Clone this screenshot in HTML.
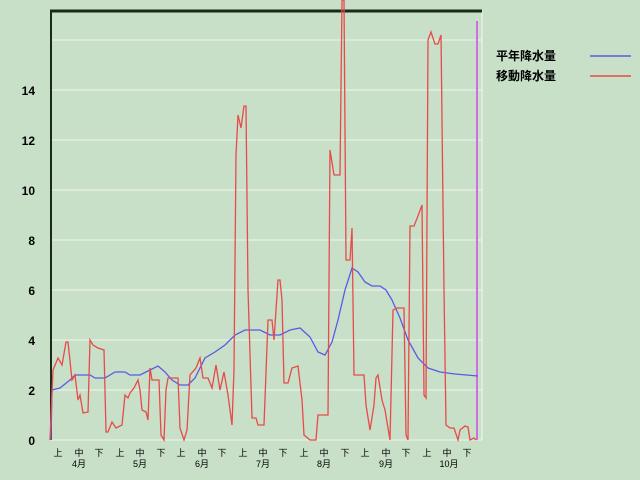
<!DOCTYPE html>
<html><head><meta charset="utf-8"><style>
body{margin:0;background:#c8dfc8;}
svg{display:block;font-family:"Liberation Sans","Noto Sans CJK JP",sans-serif;}
</style></head><body>
<svg width="640" height="480" viewBox="0 0 640 480">
<rect width="640" height="480" fill="#c8dfc8"/>
<g stroke="#e2eee2" stroke-width="1.5">
<line x1="50" y1="440" x2="482" y2="440"/><line x1="50" y1="390" x2="482" y2="390"/><line x1="50" y1="340" x2="482" y2="340"/><line x1="50" y1="290" x2="482" y2="290"/><line x1="50" y1="240" x2="482" y2="240"/><line x1="50" y1="190" x2="482" y2="190"/><line x1="50" y1="140" x2="482" y2="140"/><line x1="50" y1="90" x2="482" y2="90"/><line x1="50" y1="40" x2="482" y2="40"/>
</g>
<line x1="482" y1="10" x2="482" y2="440" stroke="#e6efe6" stroke-width="1.5"/>
<line x1="50" y1="11" x2="482" y2="11" stroke="#1a2a1a" stroke-width="3"/>
<line x1="51" y1="10" x2="51" y2="440" stroke="#1a2a1a" stroke-width="2"/>
<line x1="477" y1="21" x2="477" y2="440" stroke="#d070e0" stroke-width="2"/>
<g font-size="12" font-weight="bold" text-anchor="end" fill="#000">
<text x="35" y="445">0</text><text x="35" y="395">2</text><text x="35" y="345">4</text><text x="35" y="295">6</text><text x="35" y="245">8</text><text x="35" y="195">10</text><text x="35" y="145">12</text><text x="35" y="95">14</text>
</g>
<g font-size="9" text-anchor="middle" fill="#000">
<text x="58" y="456">上</text><text x="79" y="456">中</text><text x="99" y="456">下</text>
<text x="120" y="456">上</text><text x="140" y="456">中</text><text x="161" y="456">下</text>
<text x="181" y="456">上</text><text x="202" y="456">中</text><text x="222" y="456">下</text>
<text x="243" y="456">上</text><text x="263" y="456">中</text><text x="283" y="456">下</text>
<text x="304" y="456">上</text><text x="324" y="456">中</text><text x="345" y="456">下</text>
<text x="365" y="456">上</text><text x="386" y="456">中</text><text x="406" y="456">下</text>
<text x="427" y="456">上</text><text x="447" y="456">中</text><text x="467" y="456">下</text>
<text x="79" y="467">4月</text><text x="140" y="467">5月</text><text x="202" y="467">6月</text><text x="263" y="467">7月</text><text x="324" y="467">8月</text><text x="386" y="467">9月</text><text x="449" y="467">10月</text>
</g>
<polyline fill="none" stroke="#5a5ae6" stroke-width="1.3" points="51,440 52,390 60,388 70,380 75,375 90,375 95,378 105,378 115,372 125,372 130,375 140,375 150,370 158,366 165,372 172,380 180,385 188,385 195,378 205,358 215,352 225,345 235,335 245,330 260,330 270,335 280,335 290,330 300,328 310,337 318,352 325,355 332,342 338,320 345,290 352,268 358,272 365,282 372,286 380,286 386,290 392,300 400,318 408,340 418,358 428,368 440,372 455,374 478,376"/>
<polyline fill="none" stroke="#e84a4a" stroke-width="1.3" points="50,440 53,370 58,358 62,365 66,342 68,342 72,380 75,375 78,400 80,395 83,413 88,412 90,340 93,345 98,348 104,350 106,432 108,432 112,422 116,428 122,425 125,395 128,398 130,393 134,388 138,380 140,390 142,410 146,412 148,420 150,368 152,380 159,380 161,435 164,440 166,390 168,378 178,378 180,428 184,440 187,430 190,375 196,368 200,358 203,378 208,378 212,388 216,365 220,390 224,372 228,395 232,425 234,370 236,155 238,115 241,128 244,106 246,106 248,290 252,418 256,418 258,425 264,425 268,320 272,320 274,340 278,280 280,280 282,300 284,383 288,383 292,368 298,366 302,400 304,435 310,440 316,440 318,415 328,415 330,150 334,175 340,175 342,0 344,0 346,260 350,260 352,228 354,375 364,375 366,405 370,430 374,405 376,378 378,375 382,400 385,410 390,440 393,310 397,308 404,308 406,435 408,440 410,226 414,226 418,216 422,205 424,395 426,398 428,40 431,32 435,44 438,44 441,35 444,290 446,425 450,428 454,428 458,440 460,430 465,426 468,427 470,440 474,438 476,440"/>
<g font-size="12" font-weight="bold" fill="#000">
<text x="496" y="60">平年降水量</text><text x="496" y="80">移動降水量</text>
</g>
<line x1="590" y1="56" x2="631" y2="56" stroke="#5a5ae6" stroke-width="1.5"/>
<line x1="590" y1="76" x2="631" y2="76" stroke="#e84a4a" stroke-width="1.5"/>
</svg>
</body></html>
